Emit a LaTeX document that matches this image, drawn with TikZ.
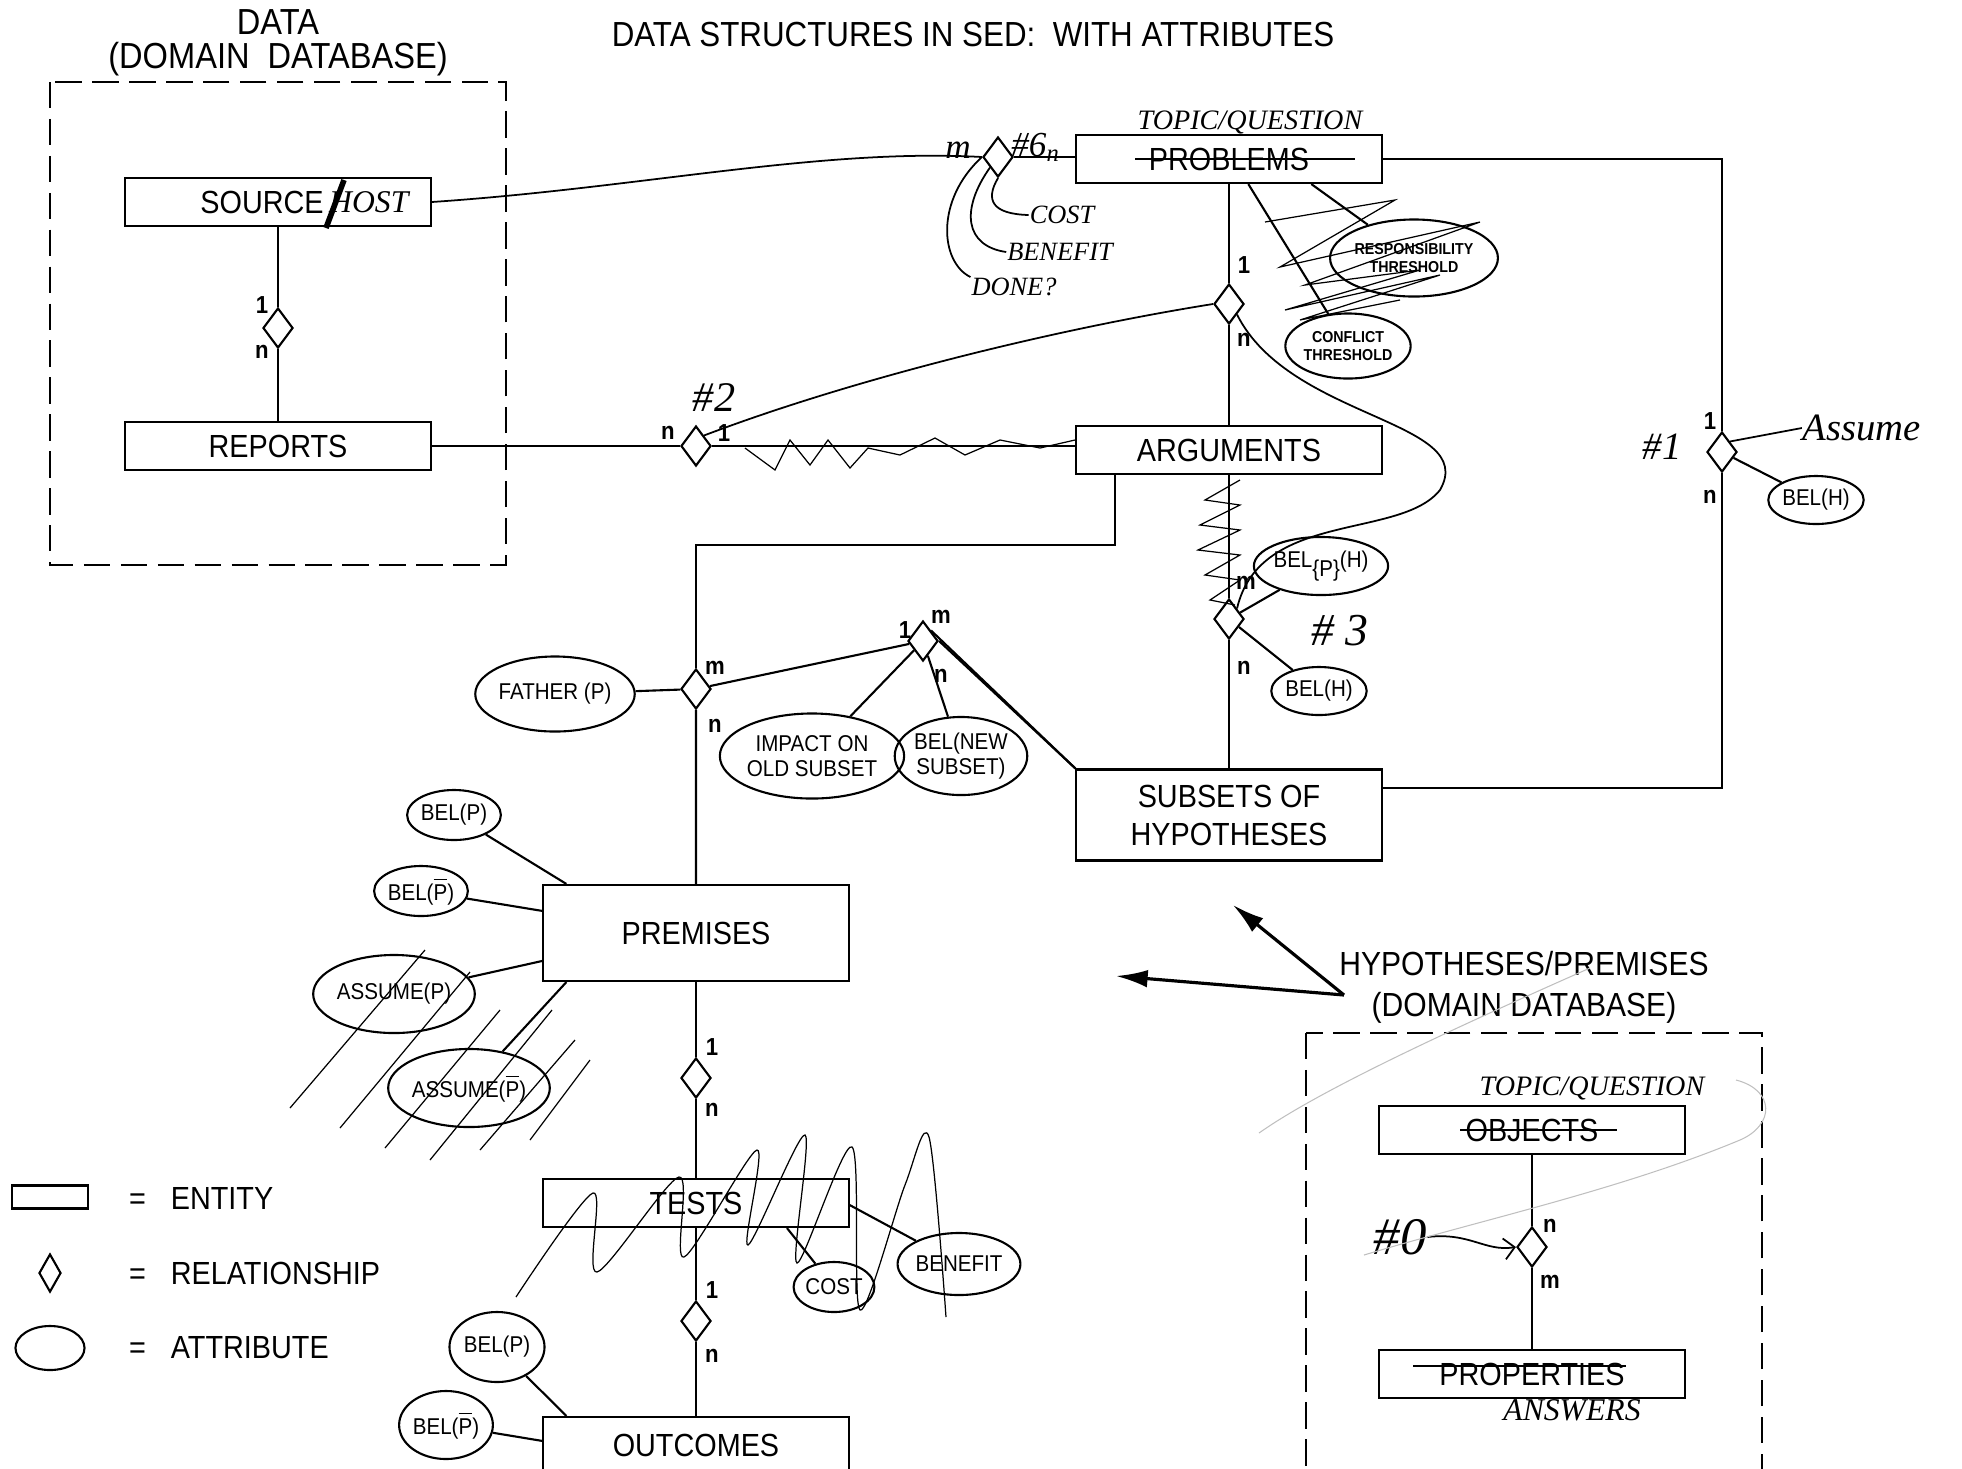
\documentclass[tikz,border=0pt]{standalone}
\usepackage{fontspec}
\setmainfont{Liberation Sans}[FakeStretch=0.9]
\newfontfamily\handfont{Liberation Serif}
\usetikzlibrary{shapes.geometric,arrows.meta,positioning,calc}
\newcommand{\Pbar}{$\overline{\mbox{P}}$}

\begin{document}
\begin{tikzpicture}[x=0.01cm, y=-0.01cm, line width=0.6pt,
  entity/.style={draw, minimum width=3.05cm, minimum height=0.48cm, inner sep=0pt, font=\fontsize{9.1}{10.8}\selectfont},
  rel/.style={draw, diamond, minimum width=0.3cm, minimum height=0.4cm, inner sep=0pt},
  attr/.style={draw, ellipse, inner sep=0pt, align=center, font=\fontsize{6.5}{7}\selectfont},
  card/.style={inner sep=0pt, font=\fontsize{7}{7}\selectfont\bfseries},
  lbl/.style={align=center, inner sep=0pt, font=\fontsize{9.5}{9.6}\selectfont},
  legtext/.style={anchor=west, inner sep=0pt, font=\fontsize{9.1}{10}\selectfont},
  hand/.style={inner sep=0pt, font=\handfont\itshape\fontsize{9}{9}\selectfont},
  handline/.style={line width=0.5pt},
  scribble/.style={line width=0.35pt},
  faint/.style={line width=0.3pt, gray!50},
  dbox/.style={dash pattern=on 7.5pt off 3pt, line width=0.6pt}]
\useasboundingbox (0,0) rectangle (1962,1468);

% headings
\node[lbl, font=\fontsize{9.9}{10}\selectfont] (title) at (973,34) {DATA STRUCTURES IN SED:\ \ WITH ATTRIBUTES};
\node[lbl, font=\fontsize{10.3}{9.7}\selectfont] (datalbl) at (278,43) {DATA\\(DOMAIN\ \ DATABASE)};
\node[lbl, font=\fontsize{9.5}{11.6}\selectfont] (hyplbl) at (1524,987) {HYPOTHESES/PREMISES\\(DOMAIN DATABASE)};

% domain databases
\draw[dbox] (50,82) rectangle (506,565);
\draw[dbox] (1306,1033) rectangle (1762,1490);

% entities
\node[entity] (source) at (278,202) {};
\node[inner sep=0pt, font=\fontsize{9.1}{10}\selectfont] (srcname) at (262,202) {SOURCE};
\node[hand, right=1pt of srcname] (srchost) {HOST};
\node[entity] (reports) at (278,446) {REPORTS};
\node[entity] (problems) at (1229,159) {PROBLEMS};
\node[entity] (arguments) at (1229,450) {ARGUMENTS};
\node[entity, minimum height=0.91cm, align=center] (subsets) at (1229,815) {SUBSETS OF\\HYPOTHESES};
\node[entity, minimum height=0.96cm] (premises) at (696,933) {PREMISES};
\node[entity] (tests) at (696,1203) {TESTS};
\node[entity, minimum height=0.56cm] (outcomes) at (696,1445) {OUTCOMES};
\node[entity] (objects) at (1532,1130) {OBJECTS};
\node[entity] (properties) at (1532,1374) {PROPERTIES};

% relationships
\node[rel] (s2r) at (278,328) {};
\node[rel] (r2a) at (696,446) {};
\node[rel] (pd6) at (998,157) {};
\node[rel] (p2a) at (1229,304) {};
\node[rel] (a2s) at (1229,619) {};
\node[rel] (hyprel) at (1722,452) {};
\node[rel] (fd) at (696,689) {};
\node[rel] (sd) at (923,641) {};
\node[rel] (pt) at (696,1078) {};
\node[rel] (t2o) at (696,1321) {};
\node[rel] (od) at (1532,1247) {};

% attributes
\node[attr, minimum width=1.32cm, minimum height=0.77cm, font=\fontsize{4.5}{5}\selectfont\bfseries] (respth) at (1414,258) {RESPONSIBILITY\\THRESHOLD};
\node[attr, minimum width=1.17cm, minimum height=0.65cm, font=\fontsize{4.5}{5}\selectfont\bfseries] (conflth) at (1348,346) {CONFLICT\\THRESHOLD};
\node[attr, minimum width=0.88cm, minimum height=0.48cm] (belh1) at (1816,500) {BEL(H)};
\node[attr, minimum width=1.1cm, minimum height=0.58cm] (belph) at (1321,566) {BEL\raisebox{-0.7ex}{\{P\}}(H)};
\node[attr, minimum width=0.88cm, minimum height=0.48cm] (belh3) at (1319,691) {BEL(H)};
\node[attr, minimum width=1.35cm, minimum height=0.75cm] (father) at (555,694) {FATHER (P)};
\node[attr, minimum width=1.44cm, minimum height=0.85cm] (impact) at (812,756) {IMPACT ON\\OLD SUBSET};
\node[attr, minimum width=1.15cm, minimum height=0.78cm] (newsub) at (961,756) {BEL(NEW\\SUBSET)};
\node[attr, minimum width=0.88cm, minimum height=0.5cm] (belp) at (454,815) {BEL(P)};
\node[attr, minimum width=0.88cm, minimum height=0.5cm] (belpb) at (421,891) {BEL(\Pbar)};
\node[attr, minimum width=1.31cm, minimum height=0.78cm] (assp) at (394,994) {ASSUME(P)};
\node[attr, minimum width=1.31cm, minimum height=0.78cm] (asspb) at (469,1088) {ASSUME(\Pbar)};
\node[attr, minimum width=0.69cm, minimum height=0.5cm] (cost) at (834,1287) {COST};
\node[attr, minimum width=1.12cm, minimum height=0.62cm] (benefit) at (959,1264) {BENEFIT};
\node[attr, minimum width=0.95cm, minimum height=0.7cm] (obelp) at (497,1347) {BEL(P)};
\node[attr, minimum width=0.9cm, minimum height=0.68cm] (obelpb) at (446,1425) {BEL(\Pbar)};

% cardinalities
\node[card] at (262,305) {1};
\node[card] at (262,352) {n};
\node[card] at (668,433) {n};
\node[card] at (724,433) {1};
\node[card] at (1244,265) {1};
\node[card] at (1244,340) {n};
\node[card] at (1246,583) {m};
\node[card] at (1244,668) {n};
\node[card] at (1710,421) {1};
\node[card] at (1710,497) {n};
\node[card] at (715,668) {m};
\node[card] at (715,726) {n};
\node[card] at (905,630) {1};
\node[card] at (941,617) {m};
\node[card] at (941,676) {n};
\node[card] at (712,1047) {1};
\node[card] at (712,1110) {n};
\node[card] at (712,1290) {1};
\node[card] at (712,1356) {n};
\node[card] at (1550,1226) {n};
\node[card] at (1550,1282) {m};

% printed connectors
\coordinate (subin) at ($(subsets.north east)+(0,20)$);
\coordinate (argfoot) at ($(arguments.south west)+(40,0)$);
\draw (source) -- (s2r) -- (reports);
\draw (reports) -- (r2a) -- (r2a -| arguments.west);
\draw (pd6.east) -- (pd6.east -| problems.west);
\draw (problems) -- (p2a) -- (arguments);
\draw (arguments) -- (a2s) -- (subsets);
\draw (problems.east) -| (hyprel);
\draw (hyprel) |- (subin);
\draw (hyprel) -- (belh1);
\draw (a2s) -- (belph);
\draw (a2s) -- (belh3);
\draw ($(problems.south west)+(173,0)$) -- (conflth);
\draw ($(problems.south west)+(236,0)$) -- (respth);
\draw (argfoot) |- ($(fd)+(0,-144)$) -- (fd);
\draw (father) -- (fd) -- (premises);
\draw (fd) -- (sd);
\draw (sd) -- (impact);
\draw (sd) -- (newsub);
\draw (sd.east) -- (subsets.north west);
\draw (sd.north east) -- (subsets.north west);
\draw (belp) -- ($(premises.north west)+(24,0)$);
\draw (belpb) -- ($(premises.north west)+(0,27)$);
\draw (assp) -- ($(premises.north west)+(0,77)$);
\draw (asspb) -- ($(premises.south west)+(24,0)$);
\draw (premises) -- (pt) -- (tests);
\draw ($(tests.south)+(91,0)$) -- (cost);
\draw ($(tests.east)+(0,2)$) -- (benefit);
\draw (tests) -- (t2o) -- (outcomes);
\draw (obelp) -- ($(outcomes.north west)+(24,0)$);
\draw (obelpb) -- ($(outcomes.north west)+(0,25)$);
\draw (objects) -- (od) -- (properties);

% pointers from the hypotheses label
\coordinate (hypfoot) at (1344,995);
\coordinate (subtip) at (1233,905);
\coordinate (premtip) at (1116,976);
\draw[line width=0.9pt, -{Latex[length=9pt,width=5pt]}] (hypfoot) -- (subtip);
\draw[line width=0.9pt, -{Latex[length=9pt,width=5pt]}] (hypfoot) -- (premtip);

% legend
\node[draw, minimum width=0.76cm, minimum height=0.23cm, inner sep=0pt] (lgent) at (50,1197) {};
\node[draw, diamond, minimum width=0.22cm, minimum height=0.38cm, inner sep=0pt] (lgrel) at (50,1273) {};
\node[draw, ellipse, minimum width=0.69cm, minimum height=0.44cm, inner sep=0pt] (lgattr) at (50,1348) {};
\node[legtext] (lgenttxt) at (128,1198) {=\hspace{0.25cm}ENTITY};
\node[legtext] (lgreltxt) at (128,1273) {=\hspace{0.25cm}RELATIONSHIP};
\node[legtext] (lgattrtxt) at (128,1348) {=\hspace{0.25cm}ATTRIBUTE};

% handwritten notes
\node[hand, font=\handfont\itshape\fontsize{12}{12}\selectfont] (n2) at (714,398) {\#2};
\node[hand, font=\handfont\itshape\fontsize{13}{13}\selectfont] (n3) at (1340,631) {\# 3};
\node[hand, font=\handfont\itshape\fontsize{11}{11}\selectfont] (n1) at (1662,447) {\#1};
\node[hand, font=\handfont\itshape\fontsize{15}{15}\selectfont] (n0) at (1400,1237) {\#0};
\node[hand, font=\handfont\itshape\fontsize{10}{10}\selectfont] (n6) at (1036,147) {\#6\textsubscript{n}};
\node[hand, font=\handfont\itshape\fontsize{10}{10}\selectfont] (hm) at (958,150) {m};
\node[hand, font=\handfont\itshape\fontsize{11}{11}\selectfont] (assume) at (1862,428) {Assume};
\node[hand, font=\handfont\itshape\fontsize{7.5}{8}\selectfont] (ncost) at (1062,215) {COST};
\node[hand, font=\handfont\itshape\fontsize{7.5}{8}\selectfont] (nbenefit) at (1060,252) {BENEFIT};
\node[hand, font=\handfont\itshape\fontsize{7.5}{8}\selectfont] (ndone) at (1014,287) {DONE?};
\node[hand, font=\handfont\itshape\fontsize{8}{8}\selectfont] (topicq) at (1250,122) {TOPIC/QUESTION};
\node[hand, font=\handfont\itshape\fontsize{8}{8}\selectfont] (topicq2) at (1592,1088) {TOPIC/QUESTION};
\node[hand, font=\handfont\itshape\fontsize{9}{9}\selectfont] (answers) at (1572,1410) {ANSWERS};

% handwritten connectors
\draw[handline] (source.east) .. controls (640,188) and (820,148) .. (pd6.west);
\draw[handline] (r2a.north east) .. controls (850,380) and (1050,330) .. (p2a.west);
\draw[handline] (p2a.south east) .. controls (1290,420) and (1480,420) .. (1440,490) .. controls (1400,540) and (1260,510) .. (a2s.north east);
\draw[handline] (hyprel.north east) -- (assume.west);
\draw[handline] (pd6.south) .. controls (985,200) and (992,214) .. (ncost.west);
\draw[handline] (pd6.south west) .. controls (960,210) and (965,246) .. (nbenefit.west);
\draw[handline] (pd6.west) .. controls (935,200) and (940,262) .. (ndone.north west);
\draw[handline, -{Straight Barb[length=3pt]}] (n0.east) .. controls (1470,1232) and (1485,1252) .. (od.west);

% crossings out
\draw[line width=1.6pt] (326,228) -- (344,180);
\draw[handline] (1135,159) -- (1355,159);
\draw[handline] (1460,1130) -- (1617,1130);
\draw[handline] (1413,1366) -- (1626,1366);
\draw[scribble] plot coordinates {(745,448) (775,470) (790,440) (810,465) (828,440) (850,468) (868,448) (900,455) (935,438) (965,455) (1000,440) (1040,448) (1075,440)};
\draw[scribble] plot coordinates {(1240,480) (1205,500) (1240,505) (1200,525) (1240,530) (1198,550) (1240,555) (1205,575) (1240,580) (1210,600) (1235,605)};
\draw[scribble] plot coordinates {(1265,222) (1395,200) (1280,267) (1480,222) (1305,285) (1420,270) (1285,310) (1440,275) (1300,320) (1400,300)};
\draw[scribble] plot[smooth, tension=0.5] coordinates {(516,1297) (593,1193) (597,1272) (679,1177) (684,1257) (757,1150) (748,1245) (805,1135) (797,1263) (852,1147) (860,1310) (905,1185) (929,1137) (946,1317)};
\draw[scribble] (290,1108) -- (425,950) (340,1128) -- (470,972) (385,1148) -- (500,1010) (430,1160) -- (552,1010) (480,1150) -- (575,1040) (530,1140) -- (590,1060);

% faint pencil marks
\draw[faint] (1590,968) .. controls (1450,1030) and (1320,1090) .. (1259,1133);
\draw[faint] (1736,1080) .. controls (1775,1090) and (1775,1125) .. (1740,1140) .. controls (1620,1190) and (1480,1220) .. (1364,1255);
\end{tikzpicture}
\end{document}
